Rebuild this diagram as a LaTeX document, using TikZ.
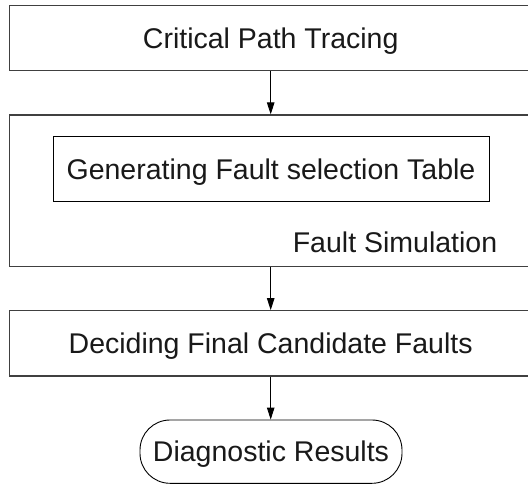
\documentclass[tikz,border=0pt]{standalone}
\usepackage{fontspec}
\setmainfont{Liberation Sans}
\usetikzlibrary{arrows.meta}
\begin{document}
\begin{tikzpicture}[x=1pt,y=-1pt,
  lbl/.style={font=\fontsize{28.5}{30}\selectfont, text=black!90, text height=20.4pt, text depth=0pt},
  boxstyle/.style={draw=black!75, line width=1.2pt, inner sep=0pt, lbl},
  innerbox/.style={draw=black, line width=1pt, inner sep=0pt, lbl},
  termstyle/.style={draw=black, line width=0.9pt, rounded corners=30pt, inner sep=0pt, lbl},
  conn/.style={draw=black, line width=0.9pt, -{Triangle[length=12pt,width=7.5pt]}}]
\useasboundingbox (0,0) rectangle (528,485);
\clip (0,0) rectangle (528,485);
\fill[white] (0,0) rectangle (528,485);
\node[boxstyle, minimum width=522.4pt, minimum height=65pt] (cpt) at (270.7,38.2) {Critical Path Tracing};
\node[boxstyle, minimum width=522.4pt, minimum height=151.7pt] (fs) at (270.7,190.85) {};
\node[innerbox, minimum width=436pt, minimum height=65.7pt] (gfst) at (271,168.85) {Generating Fault selection Table};
\node[lbl, inner sep=0pt] (fsl) at (395,242.2) {Fault Simulation};
\node[boxstyle, minimum width=522.4pt, minimum height=65.3pt] (dfc) at (270.7,343.35) {Deciding Final Candidate Faults};
\node[termstyle, minimum width=262pt, minimum height=63.3pt] (dr) at (271,451.65) {Diagnostic Results};
\draw[conn] (cpt.south -| 270.7,0) -- (fs.north -| 270.7,0);
\draw[conn] (fs.south -| 270.7,0) -- (dfc.north -| 270.7,0);
\draw[conn] (dfc.south -| 270.7,0) -- (dr.north -| 270.7,0);
\end{tikzpicture}
\end{document}
